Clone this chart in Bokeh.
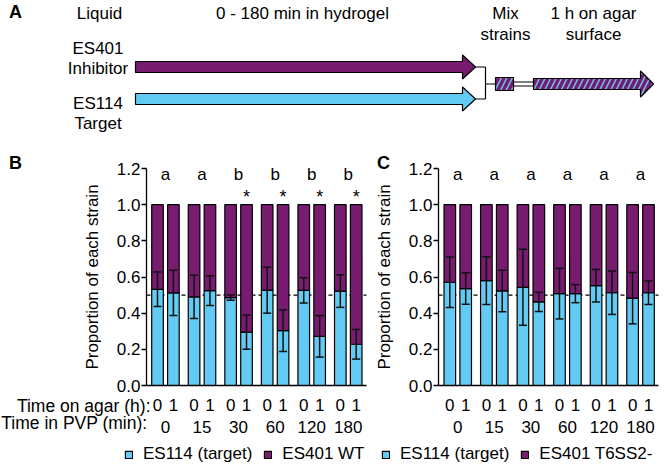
from bokeh.plotting import figure
from bokeh.models import (Range1d, ColumnDataSource, LinearAxis, FixedTicker, Whisker, TeeHead,
                          LabelSet, Label, Legend, LegendItem, NumeralTickFormatter)
from bokeh.layouts import column, row
from bokeh.embed import file_html
from bokeh.resources import INLINE
from bokeh.core.properties import value

# ---------------- data ----------------
pvp_times = ["0", "15", "30", "60", "120", "180"]
agar_times = ["0", "1"]
y_ticks = [0.0, 0.2, 0.4, 0.6, 0.8, 1.0, 1.2]

# Panel B: ES114 (target) vs ES401 WT  -- proportion of ES114, SEM
b_target = [0.532, 0.512, 0.490, 0.525, 0.486, 0.295, 0.527, 0.303, 0.526, 0.272, 0.522, 0.228]
b_err = [0.095, 0.125, 0.120, 0.082, 0.015, 0.095, 0.127, 0.115, 0.070, 0.115, 0.090, 0.082]
b_letters = ["a", "a", "b", "b", "b", "b"]
b_star = [False, False, True, True, True, True]
b_legend = ["ES114 (target)", "ES401 WT"]

# Panel C: ES114 (target) vs ES401 T6SS2-
c_target = [0.571, 0.536, 0.580, 0.523, 0.543, 0.462, 0.508, 0.508, 0.552, 0.513, 0.483, 0.513]
c_err = [0.140, 0.087, 0.132, 0.115, 0.210, 0.053, 0.140, 0.050, 0.090, 0.120, 0.142, 0.065]
c_letters = ["a", "a", "a", "a", "a", "a"]
c_star = [False, False, False, False, False, False]
c_legend = ["ES114 (target)", "ES401 T6SS2-"]

row_titles = ["Time on agar (h):", "Time in PVP (min):"]
y_title = "Proportion of each strain"

# Panel A texts
a_header = ["Liquid", "0 - 180 min in hydrogel", "Mix", "1 h on agar"]
a_header2 = ["strains", "surface"]
a_strains = ["ES401", "Inhibitor", "ES114", "Target"]

# ---------------- style / layout ----------------
BLUE = "#63CBF3"
PURPLE = "#781C70"
INK = "#111111"
FONT = "Liberation Sans"
FS = "17px"
GROUP_STEP = 23
BAR_STEP = 10
BAR_W = 7.3
PX = 1.5896     # pixels per x unit
PY = 180.83     # pixels per y unit
TOP_H = 140     # height of panel A
BOT_H = 325     # height of panels B/C
Y0_PAGE = 385   # page y of value 0


def make_panel(target, err, letters, stars, legend_labels, left_px, width, bar0_px,
               axis_px, axis_end_px, panel_letter, letter_px, legend_px, titles):
    n_g, n_a = len(pvp_times), len(agar_times)

    def dx(px):
        return (px - bar0_px) / PX

    def dy(py):
        return (Y0_PAGE - py) / PY

    xs = [g * GROUP_STEP + j * BAR_STEP for g in range(n_g) for j in range(n_a)]
    centers = [g * GROUP_STEP + BAR_STEP * (n_a - 1) / 2 for g in range(n_g)]
    src = ColumnDataSource(dict(
        x=xs, t=target, one=[1.0] * len(xs),
        lo=[t - e for t, e in zip(target, err)],
        hi=[t + e for t, e in zip(target, err)]))

    p = figure(width=width, height=BOT_H,
               x_range=Range1d(dx(left_px), dx(left_px + width)),
               y_range=Range1d(dy(TOP_H + BOT_H), dy(TOP_H)),
               x_axis_type=None, y_axis_type=None, output_backend="svg",
               toolbar_location=None, min_border=0)
    p.outline_line_color = None

    # y axis at fixed position
    yax = LinearAxis(fixed_location=dx(axis_px), bounds=(y_ticks[0], y_ticks[-1]),
                     ticker=FixedTicker(ticks=y_ticks),
                     formatter=NumeralTickFormatter(format="0.0"))
    yax.major_tick_out = 5
    yax.major_tick_in = 0
    yax.major_label_standoff = 1
    yax.axis_label = y_title
    yax.axis_label_text_font = FONT
    yax.axis_label_text_font_size = FS
    yax.axis_label_text_font_style = "normal"
    yax.axis_label_text_color = "black"
    yax.axis_label_standoff = 12
    yax.axis_line_width = 1.3
    yax.major_tick_line_width = 1.3
    p.add_layout(yax, "left")

    # x axes: row 1 (time on agar), row 2 (time in PVP)
    ax1 = LinearAxis(fixed_location=0, bounds=(dx(axis_px), dx(axis_end_px)),
                     ticker=FixedTicker(ticks=xs),
                     major_label_overrides={x: agar_times[i % n_a] for i, x in enumerate(xs)})
    ax1.major_tick_out = 0
    ax1.major_tick_in = 0
    ax1.major_label_standoff = 13
    ax1.axis_line_width = 1.3
    ax2 = LinearAxis(fixed_location=0, bounds=(dx(axis_px), dx(axis_end_px)),
                     ticker=FixedTicker(ticks=centers),
                     major_label_overrides={c: pvp_times[i] for i, c in enumerate(centers)})
    ax2.axis_line_color = None
    ax2.major_tick_line_color = None
    ax2.major_label_standoff = 29
    for ax in (yax, ax1, ax2):
        ax.minor_tick_line_color = None
        ax.major_label_text_font = FONT
        ax.major_label_text_font_size = FS
        ax.major_label_text_color = "black"
    yax.axis_line_color = "black"
    ax1.axis_line_color = "black"
    p.add_layout(ax1, "below")
    p.add_layout(ax2, "below")

    # 50% reference line
    p.segment(x0=[dx(axis_px)], x1=[dx(axis_end_px)], y0=[0.5], y1=[0.5],
              line_dash="4 3", line_color="black", line_width=1.2, level="underlay")

    r_blue = p.vbar(x="x", width=BAR_W, bottom=0, top="t", source=src,
                    fill_color=BLUE, line_color="black", line_width=1.2)
    r_purple = p.vbar(x="x", width=BAR_W, bottom="t", top="one", source=src,
                      fill_color=PURPLE, line_color="black", line_width=1.2)
    p.add_layout(Whisker(base="x", lower="lo", upper="hi", source=src, level="annotation",
                         line_color=INK, line_width=1.5,
                         lower_head=TeeHead(size=8, line_color=INK, line_width=1.5),
                         upper_head=TeeHead(size=8, line_color=INK, line_width=1.5)))

    let_src = ColumnDataSource(dict(x=centers, y=[1.135] * n_g, text=letters))
    p.add_layout(LabelSet(x="x", y="y", text="text", source=let_src, text_align="center",
                          text_baseline="alphabetic", text_font=value(FONT), text_font_size=FS,
                          text_color="black"))
    sx = [xs[g * n_a + 1] for g in range(n_g) if stars[g]]
    st_src = ColumnDataSource(dict(x=sx, y=[1.01] * len(sx), text=["*"] * len(sx)))
    p.add_layout(LabelSet(x="x", y="y", text="text", source=st_src, text_align="center",
                          text_baseline="alphabetic", text_font=value(FONT), text_font_size="18px",
                          text_color="black"))

    p.add_layout(Label(x=dx(letter_px[0]), y=dy(letter_px[1]), text=panel_letter,
                       text_align="center", text_baseline="middle", text_font=FONT,
                       text_font_size="18px", text_font_style="bold", text_color="black"))

    for k, t in enumerate(titles):
        ry = [405.7, 422.5][k]
        rx = [150, 147][k]
        p.add_layout(Label(x=dx(rx), y=dy(ry), text=t, text_align="right",
                           text_baseline="middle", text_font=FONT,
                           text_font_size="17.5px", text_color="black"))

    leg = Legend(items=[LegendItem(label=legend_labels[0], renderers=[r_blue]),
                        LegendItem(label=legend_labels[1], renderers=[r_purple])],
                 orientation="horizontal", location=legend_px,
                 glyph_width=9, glyph_height=9, label_standoff=10, spacing=11,
                 padding=0, margin=0, border_line_color=None, background_fill_alpha=0,
                 label_text_font=FONT, label_text_font_size=FS, label_text_color="black",
                 label_height=9)
    p.add_layout(leg)
    return p


# Panel B: page x 0..375
pB = make_panel(b_target, b_err, b_letters, b_star, b_legend, left_px=0, width=375,
                bar0_px=157, axis_px=146, axis_end_px=366, panel_letter="B",
                letter_px=(15, 162), legend_px=(124, 1), titles=row_titles)
# Panel C: page x 375..666
pC = make_panel(c_target, c_err, c_letters, c_star, c_legend, left_px=375, width=291,
                bar0_px=449.3, axis_px=438, axis_end_px=658, panel_letter="C",
                letter_px=(383, 162), legend_px=(6, 1), titles=[])

# ---------------- panel A (schematic) ----------------
pA = figure(width=666, height=TOP_H, x_range=Range1d(0, 666), y_range=Range1d(TOP_H, 0),
            x_axis_type=None, y_axis_type=None, output_backend="svg", toolbar_location=None,
            min_border=0)
pA.outline_line_color = None


def arrow(x0, head_x, x1, cy, hh, hw):
    return ([x0, head_x, head_x, x1, head_x, head_x, x0],
            [cy - hh, cy - hh, cy - hw, cy, cy + hw, cy + hh, cy + hh])


ARR_L, HEAD_X, TIP_X = 135, 462, 475
CY_P, CY_B, HH, HW = 66.5, 98.5, 5.5, 12
JOIN_X, MIX_L, MIX_R, LONG_L, LONG_HEAD, LONG_TIP, CY_M = 485, 495, 513, 533, 640, 653, 83.5

ap = arrow(ARR_L, HEAD_X, TIP_X, CY_P, HH, HW)
ab = arrow(ARR_L, HEAD_X, TIP_X, CY_B, HH, HW)
pA.patches(xs=[ap[0], ab[0]], ys=[ap[1], ab[1]], fill_color=[PURPLE, BLUE],
           line_color="black", line_width=1.2)
pA.multi_line(xs=[[TIP_X, JOIN_X], [TIP_X, JOIN_X], [JOIN_X, JOIN_X], [JOIN_X, MIX_L]],
              ys=[[CY_P, CY_P], [CY_B, CY_B], [CY_P, CY_B], [CY_M, CY_M]],
              line_color="black", line_width=1.2)
pA.quad(left=[MIX_R], right=[LONG_L], bottom=[CY_M - 2], top=[CY_M + 2],
        fill_color="white", line_color="black", line_width=1.1)
al = arrow(LONG_L, LONG_HEAD, LONG_TIP, CY_M, HH, 13)
pA.patches(xs=[al[0]], ys=[al[1]], fill_color=BLUE, line_color="black", line_width=1.2,
           hatch_pattern="/", hatch_color=PURPLE, hatch_weight=3.5, hatch_scale=11)
pA.quad(left=[MIX_L], right=[MIX_R], bottom=[CY_M - 6.5], top=[CY_M + 6.5],
        fill_color=BLUE, line_color="black", line_width=1.2,
        hatch_pattern="/", hatch_color=PURPLE, hatch_weight=3.5, hatch_scale=11)

pA.text(x=[99, 302, 505, 593], y=[12.5] * 4, text=a_header, text_align="center",
        text_baseline="middle", text_font=value(FONT), text_font_size=FS, text_color="black")
pA.text(x=[505, 593], y=[34] * 2, text=a_header2, text_align="center",
        text_baseline="middle", text_font=value(FONT), text_font_size=FS, text_color="black")
pA.text(x=[97.5] * 4, y=[48, 68, 103, 122.5], text=a_strains, text_align="center",
        text_baseline="middle", text_font=value(FONT), text_font_size=FS, text_color="black")
pA.text(x=[15], y=[11], text=["A"], text_align="center", text_baseline="middle",
        text_font=value(FONT), text_font_size="18px", text_font_style="bold", text_color="black")

layout = column(pA, row(pB, pC, spacing=0), spacing=0)
open("out.html", "w").write(file_html(layout, INLINE))
